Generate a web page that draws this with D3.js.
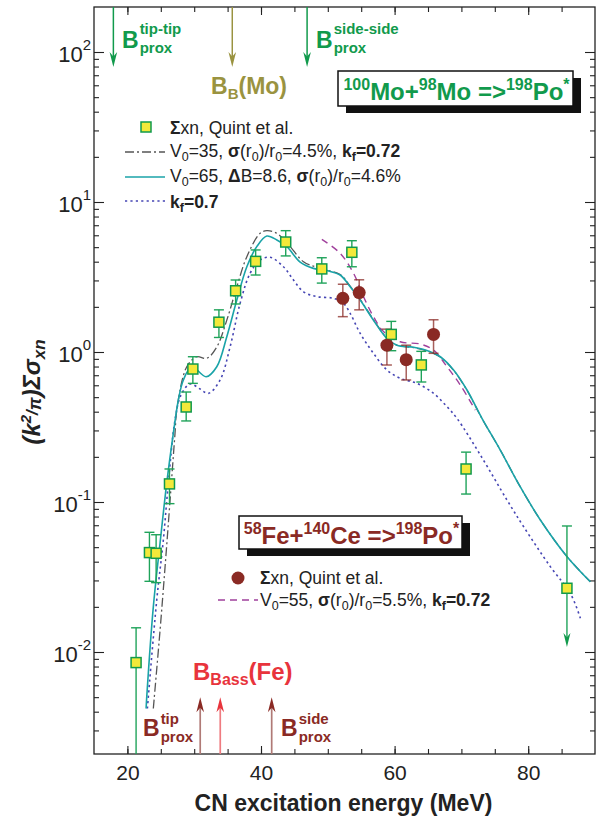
<!DOCTYPE html>
<html><head><meta charset="utf-8">
<script src="https://cdn.jsdelivr.net/npm/d3@7"></script>
<style>body{margin:0;background:#fff}svg{display:block}</style>
</head><body>
<svg id="chart" width="606" height="823"></svg>
<script>
// ---- 100Mo+98Mo -> 198Po*, sum of xn channels (Quint et al.)
const moEnergy  = [21.3, 23.3, 24.3, 26.3, 28.8, 29.8, 33.7, 36.2, 39.2, 43.7, 49.1, 53.6, 59.5, 64.0, 70.7, 85.8];
const moSigma   = [0.0085, 0.046, 0.0455, 0.132, 0.43, 0.77, 1.58, 2.56, 4.02, 5.41, 3.58, 4.62, 1.31, 0.82, 0.166, 0.0266];
const moErrHigh = [0.0145, 0.0628, 0.0605, 0.166, 0.541, 0.93, 1.91, 3.02, 4.79, 6.44, 4.25, 5.52, 1.60, 1.01, 0.215, 0.0692];
const moErrLow  = [0.001, 0.0296, 0.029, 0.0975, 0.347, 0.618, 1.25, 2.09, 3.26, 4.37, 2.88, 3.70, 1.02, 0.631, 0.113, 0.0108];
const moUpperLimitOnly = [false, false, false, false, false, false, false, false, false, false, false, false, false, false, false, true];

// ---- 58Fe+140Ce -> 198Po*
const feEnergy  = [52.25, 54.7, 58.85, 61.74, 65.83];
const feSigma   = [2.28, 2.49, 1.11, 0.889, 1.31];
const feErrHigh = [2.83, 3.03, 1.42, 1.11, 1.64];
const feErrLow  = [1.72, 1.91, 0.819, 0.651, 0.98];

// ---- model curves
const v35Energy = [23.88, 24.89, 25.64, 26.39, 27.13, 27.39, 28.89, 30.39, 31.88, 33.38, 34.88, 36.38, 37.88, 39.87, 40.87, 42.37, 44.36, 46.36, 48.86, 51.85, 53.35, 54.85, 56.84, 58.85, 60.35, 62.84, 65.34, 66.84, 68.83, 70.84, 73.08, 75.82, 78.82, 81.82, 85.82, 89.31];
const v35Sigma  = [0.0042, 0.014, 0.037, 0.103, 0.288, 0.41, 0.798, 0.93, 0.908, 1.08, 1.63, 2.72, 4.32, 6.19, 6.44, 6.19, 5.04, 4.0, 3.61, 3.28, 2.75, 2.24, 1.64, 1.24, 1.11, 1.07, 1.0, 0.925, 0.755, 0.555, 0.36, 0.222, 0.126, 0.0759, 0.0432, 0.0294];

const v65Energy = [22.8, 22.9, 23.88, 24.89, 25.89, 26.88, 27.63, 28.38, 29.64, 31.78, 33.38, 34.88, 36.38, 37.88, 39.37, 40.87, 42.37, 43.87, 45.86, 47.85, 49.86, 51.85, 53.35, 54.85, 56.84, 58.85, 60.35, 62.84, 65.34, 66.84, 68.83, 70.84, 73.08, 75.82, 78.82, 81.82, 85.82, 89.31];
const v65Sigma  = [0.0042, 0.00504, 0.0200, 0.0533, 0.134, 0.288, 0.479, 0.651, 0.798, 0.684, 0.798, 1.265, 2.22, 3.70, 5.04, 5.93, 5.58, 5.04, 3.98, 3.61, 3.49, 3.26, 2.72, 2.22, 1.63, 1.23, 1.11, 1.075, 1.005, 0.93, 0.759, 0.558, 0.361, 0.222, 0.126, 0.0759, 0.0432, 0.0294];

const kf07Energy = [22.99, 24.39, 25.38, 26.13, 27.13, 28.03, 29.38, 30.88, 32.12, 33.88, 35.37, 36.87, 38.37, 39.87, 41.37, 43.36, 44.86, 46.36, 48.36, 50.85, 52.3, 53.35, 54.85, 56.84, 58.85, 60.84, 63.34, 65.83, 67.84, 69.34, 72.83, 76.83, 79.31, 83.31, 86.31, 87.81];
const kf07Sigma  = [0.0042, 0.0222, 0.0558, 0.134, 0.352, 0.517, 0.612, 0.567, 0.53, 0.651, 1.08, 2.11, 3.35, 4.11, 4.28, 3.70, 3.02, 2.52, 2.34, 2.28, 2.12, 1.81, 1.33, 0.98, 0.759, 0.668, 0.618, 0.53, 0.432, 0.361, 0.206, 0.103, 0.0685, 0.0371, 0.0246, 0.0168];

const feModelEnergy = [49.11, 51.85, 53.85, 55.34, 56.84, 58.34, 60.84, 63.84, 65.83, 67.84, 69.83, 72.08];
const feModelSigma  = [5.64, 4.55, 3.35, 2.34, 1.72, 1.37, 1.17, 1.13, 1.03, 0.798, 0.603, 0.41];

// ---- barrier arrows
const moArrowEnergy = [17.9, 35.7, 46.9];      // B_prox tip-tip, B_B(Mo), B_prox side-side
const moArrowTip = 79.4;
const feArrowEnergy = [30.9, 33.9, 41.6];      // B_prox tip, B_Bass(Fe), B_prox side
const feArrowTip = 0.005;

// ---- axes
const xTicksMajor = [20, 40, 60, 80];
const xTicksMinor = [20, 25, 30, 35, 40, 45, 50, 55, 60, 65, 70, 75, 80, 85];
const yDecades = [0.01, 0.1, 1, 10, 100];
const yDecadeLabels = ["-2", "-1", "0", "1", "2"];

const FONT = "'Liberation Sans', Arial, Helvetica, sans-serif";
const C = {
  green: "#119a4c", errGreen: "#1fa35a", fill: "#f3e93a",
  olive: "#9a9340", red: "#e8343c", darkRed: "#8a2a24",
  teal: "#1aa3a8", gray: "#555555", blue: "#4646b4", magenta: "#a0409c"
};

const plot = {left: 94, right: 595, top: 7, bottom: 754};
const svg = d3.select("#chart");

const x = d3.scaleLinear().domain([15, 90]).range([plot.left, plot.right]);
const y = d3.scaleLog().domain([Math.pow(10, -2.68), Math.pow(10, 2.3)]).range([plot.bottom, plot.top]);

svg.append("defs").append("clipPath").attr("id", "clip")
  .append("rect").attr("x", plot.left).attr("y", plot.top)
  .attr("width", plot.right - plot.left).attr("height", plot.bottom - plot.top);

// ---- axes with inward ticks
const yMinor = y.ticks().filter(v => !yDecades.some(d => Math.abs(v / d - 1) < 1e-6));
function styleAxis(g) {
  g.select(".domain").remove();
  g.selectAll("line").attr("stroke", "#222").attr("stroke-width", 1.1);
}
svg.append("g").attr("transform", `translate(0,${plot.bottom})`)
  .call(d3.axisBottom(x).tickValues(xTicksMinor).tickSize(-5).tickFormat("")).call(styleAxis);
svg.append("g").attr("transform", `translate(0,${plot.bottom})`)
  .call(d3.axisBottom(x).tickValues(xTicksMajor).tickSize(-8).tickPadding(11).tickFormat(d3.format("d")))
  .call(styleAxis)
  .call(g => g.selectAll("text").attr("font-family", FONT).attr("font-size", 21).attr("fill", "#222"));
svg.append("g").attr("transform", `translate(0,${plot.top})`)
  .call(d3.axisTop(x).tickValues(xTicksMinor).tickSize(-5).tickFormat("")).call(styleAxis);
svg.append("g").attr("transform", `translate(0,${plot.top})`)
  .call(d3.axisTop(x).tickValues(xTicksMajor).tickSize(-8).tickFormat("")).call(styleAxis);
svg.append("g").attr("transform", `translate(${plot.left},0)`)
  .call(d3.axisLeft(y).tickValues(yMinor).tickSize(-5).tickFormat("")).call(styleAxis);
svg.append("g").attr("transform", `translate(${plot.left},0)`)
  .call(d3.axisLeft(y).tickValues(yDecades).tickSize(-10).tickFormat("")).call(styleAxis);
svg.append("g").attr("transform", `translate(${plot.right},0)`)
  .call(d3.axisRight(y).tickValues(yMinor).tickSize(-5).tickFormat("")).call(styleAxis);
svg.append("g").attr("transform", `translate(${plot.right},0)`)
  .call(d3.axisRight(y).tickValues(yDecades).tickSize(-10).tickFormat("")).call(styleAxis);

svg.append("rect").attr("x", plot.left).attr("y", plot.top)
  .attr("width", plot.right - plot.left).attr("height", plot.bottom - plot.top)
  .attr("fill", "none").attr("stroke", "#222").attr("stroke-width", 1.3);

// decade labels 10^n
yDecades.forEach((v, i) => {
  const t = svg.append("text").attr("x", 91).attr("y", y(v) + 10)
    .attr("text-anchor", "end").attr("font-family", FONT).attr("font-size", 22).attr("fill", "#222");
  t.append("tspan").text("10");
  t.append("tspan").text(yDecadeLabels[i]).attr("font-size", 15).attr("dy", -12);
});

// rich text helper: parts = [{t, size, dy, w, style}]
function rich(g, xPos, yPos, parts, o) {
  const t = g.append("text").attr("x", xPos).attr("y", yPos)
    .attr("font-family", FONT).attr("fill", o.fill || "#222")
    .attr("font-size", o.size).attr("font-weight", o.w || "normal")
    .attr("text-anchor", o.anchor || "start");
  if (o.style) t.attr("font-style", o.style);
  let cur = 0;
  parts.forEach(p => {
    const d = p.dy || 0;
    const s = t.append("tspan").text(p.t).attr("dy", d - cur);
    cur = d;
    if (p.size) s.attr("font-size", p.size);
    if (p.w) s.attr("font-weight", p.w);
    if (p.style) s.attr("font-style", p.style);
  });
  return t;
}
// letter with stacked superscript and subscript
function stacked(g, xPos, yPos, main, sup, sub, o) {
  const m = g.append("text").attr("x", xPos).attr("y", yPos).text(main)
    .attr("font-family", FONT).attr("font-weight", "bold").attr("font-size", o.size).attr("fill", o.fill);
  const w = m.node().getComputedTextLength();
  g.append("text").attr("x", xPos + w + 1).attr("y", yPos - o.supUp).text(sup)
    .attr("font-family", FONT).attr("font-weight", "bold").attr("font-size", o.small).attr("fill", o.fill);
  g.append("text").attr("x", xPos + w + 1).attr("y", yPos + o.subDown).text(sub)
    .attr("font-family", FONT).attr("font-weight", "bold").attr("font-size", o.small).attr("fill", o.fill);
}

// ---- axis titles
svg.append("text").attr("x", 343.5).attr("y", 811).attr("text-anchor", "middle")
  .attr("font-family", FONT).attr("font-weight", "bold").attr("font-size", 23).attr("fill", "#222")
  .text("CN excitation energy (MeV)");
const yTitle = svg.append("g").attr("transform", "translate(40,392) rotate(-90)");
rich(yTitle, 0, 0, [
  {t: "(k"}, {t: "2", size: 15, dy: -9}, {t: "/", size: 17, dy: -2}, {t: "π", size: 18, dy: 1},
  {t: ")Σσ"}, {t: "xn", size: 17, dy: 5}
], {size: 24, w: "bold", style: "italic", anchor: "middle", fill: "#222"});

// ---- curves
const plotArea = svg.append("g").attr("clip-path", "url(#clip)");
const line = d3.line().x(d => x(d[0])).y(d => y(d[1])).curve(d3.curveCatmullRom.alpha(0.5));
const zip = (a, b) => a.map((v, i) => [v, b[i]]);

plotArea.append("path").datum(zip(kf07Energy, kf07Sigma)).attr("d", line)
  .attr("fill", "none").attr("stroke", C.blue).attr("stroke-width", 1.6).attr("stroke-dasharray", "2.2,3.2");
plotArea.append("path").datum(zip(feModelEnergy, feModelSigma)).attr("d", line)
  .attr("fill", "none").attr("stroke", C.magenta).attr("stroke-width", 1.4).attr("stroke-dasharray", "7,5");
plotArea.append("path").datum(zip(v35Energy, v35Sigma)).attr("d", line)
  .attr("fill", "none").attr("stroke", C.gray).attr("stroke-width", 1.3).attr("stroke-dasharray", "9,3,2,3");
plotArea.append("path").datum(zip(v65Energy, v65Sigma)).attr("d", line)
  .attr("fill", "none").attr("stroke", C.teal).attr("stroke-width", 1.6);

// ---- arrow helper (shaft + notched head), tip at (xp, yTip), pointing dir (+1 down, -1 up)
function arrow(g, xp, yFrom, yTip, dir, shaftColor, headColor, len, half, sw) {
  g.append("line").attr("x1", xp).attr("x2", xp).attr("y1", yFrom).attr("y2", yTip - dir * len * 0.6)
    .attr("stroke", shaftColor).attr("stroke-width", sw);
  const b = yTip - dir * len;
  g.append("path")
    .attr("d", `M${xp},${yTip} L${xp - half},${b} L${xp},${b + dir * len * 0.3} L${xp + half},${b} Z`)
    .attr("fill", headColor);
}

// ---- error bars and markers
const errG = plotArea.append("g");
moEnergy.forEach((e, i) => {
  const xp = x(e);
  if (moUpperLimitOnly[i]) {
    errG.append("line").attr("x1", xp - 5).attr("x2", xp + 5).attr("y1", y(moErrHigh[i])).attr("y2", y(moErrHigh[i]))
      .attr("stroke", C.errGreen).attr("stroke-width", 1.4);
    arrow(errG, xp, y(moErrHigh[i]), y(moErrLow[i]), 1, C.errGreen, C.green, 14, 3.5, 1.4);
  } else {
    errG.append("line").attr("x1", xp).attr("x2", xp).attr("y1", y(moErrHigh[i])).attr("y2", y(moErrLow[i]))
      .attr("stroke", C.errGreen).attr("stroke-width", 1.4);
    [moErrHigh[i], moErrLow[i]].forEach(v => errG.append("line")
      .attr("x1", xp - 5).attr("x2", xp + 5).attr("y1", y(v)).attr("y2", y(v))
      .attr("stroke", C.errGreen).attr("stroke-width", 1.4));
  }
});
feEnergy.forEach((e, i) => {
  const xp = x(e);
  errG.append("line").attr("x1", xp).attr("x2", xp).attr("y1", y(feErrHigh[i])).attr("y2", y(feErrLow[i]))
    .attr("stroke", C.darkRed).attr("stroke-opacity", 0.75).attr("stroke-width", 1.5);
  [feErrHigh[i], feErrLow[i]].forEach(v => errG.append("line")
    .attr("x1", xp - 5).attr("x2", xp + 5).attr("y1", y(v)).attr("y2", y(v))
    .attr("stroke", C.darkRed).attr("stroke-opacity", 0.75).attr("stroke-width", 1.5));
});
plotArea.selectAll(".mo").data(zip(moEnergy, moSigma)).join("rect")
  .attr("x", d => x(d[0]) - 5).attr("y", d => y(d[1]) - 5).attr("width", 10).attr("height", 10)
  .attr("fill", C.fill).attr("stroke", C.green).attr("stroke-width", 1.5);
plotArea.selectAll(".fe").data(zip(feEnergy, feSigma)).join("circle")
  .attr("cx", d => x(d[0])).attr("cy", d => y(d[1])).attr("r", 6.5).attr("fill", C.darkRed);

// ---- barrier arrows (top: Mo system, bottom: Fe system)
const arrG = svg.append("g");
[C.green, C.olive, C.green].forEach((c, i) =>
  arrow(arrG, x(moArrowEnergy[i]), plot.top, y(moArrowTip), 1, c, c, 15, 3.8, 1.5));
[["#b07a76", C.darkRed], ["#ef7b80", C.red], ["#b07a76", C.darkRed]].forEach((c, i) =>
  arrow(arrG, x(feArrowEnergy[i]), plot.bottom, y(feArrowTip), -1, c[0], c[1], 15, 3.8, 1.7));

// ---- barrier labels
stacked(svg, 122, 48, "B", "tip-tip", "prox", {size: 23, small: 15, fill: C.green, supUp: 14, subDown: 5});
stacked(svg, 316, 48, "B", "side-side", "prox", {size: 23, small: 15, fill: C.green, supUp: 14, subDown: 5});
rich(svg, 211, 94, [{t: "B"}, {t: "B", size: 15, dy: 5}, {t: "(Mo)", dy: 0}],
  {size: 23, w: "bold", fill: C.olive});
rich(svg, 193, 680, [{t: "B"}, {t: "Bass", size: 16, dy: 5}, {t: "(Fe)", dy: 0}],
  {size: 24, w: "bold", fill: C.red});
stacked(svg, 143, 736, "B", "tip", "prox", {size: 23, small: 15, fill: C.darkRed, supUp: 12, subDown: 6});
stacked(svg, 281, 736, "B", "side", "prox", {size: 23, small: 15, fill: C.darkRed, supUp: 12, subDown: 6});

// ---- reaction boxes with drop shadow
function reactionBox(x0, y0, w, h, parts, color, baseY) {
  svg.append("rect").attr("x", x0 + 8).attr("y", y0 + 7).attr("width", w).attr("height", h).attr("fill", "#111");
  svg.append("rect").attr("x", x0).attr("y", y0).attr("width", w).attr("height", h)
    .attr("fill", "#fff").attr("stroke", "#111").attr("stroke-width", 1.5);
  rich(svg, x0 + w / 2 + 1, baseY, parts, {size: 24, w: "bold", fill: color, anchor: "middle"});
}
reactionBox(338, 71, 235, 35, [
  {t: "100", size: 16, dy: -10}, {t: "Mo+"}, {t: "98", size: 16, dy: -10}, {t: "Mo =>"},
  {t: "198", size: 16, dy: -10}, {t: "Po"}, {t: "*", size: 16, dy: -10}], C.green, 100);
reactionBox(239, 516, 223, 33, [
  {t: "58", size: 16, dy: -10}, {t: "Fe+"}, {t: "140", size: 16, dy: -10}, {t: "Ce =>"},
  {t: "198", size: 16, dy: -10}, {t: "Po"}, {t: "*", size: 16, dy: -10}], C.darkRed, 544);

// ---- legends
const LS = 17.5, SS = 12.5;
const lg = svg.append("g");
lg.append("rect").attr("x", 141).attr("y", 122).attr("width", 10).attr("height", 10)
  .attr("fill", C.fill).attr("stroke", C.green).attr("stroke-width", 1.5);
rich(lg, 170, 134, [{t: "Σ", w: "bold"}, {t: "xn, Quint et al."}], {size: LS});
lg.append("line").attr("x1", 125).attr("x2", 165).attr("y1", 152).attr("y2", 152)
  .attr("stroke", C.gray).attr("stroke-width", 1.3).attr("stroke-dasharray", "9,3,2,3");
rich(lg, 170, 157, [{t: "V"}, {t: "0", size: SS, dy: 4}, {t: "=35, ", dy: 0}, {t: "σ", w: "bold"},
  {t: "(r"}, {t: "0", size: SS, dy: 4}, {t: ")/r", dy: 0}, {t: "0", size: SS, dy: 4}, {t: "=4.5%, ", dy: 0},
  {t: "k", w: "bold"}, {t: "f", size: SS, dy: 4, w: "bold"}, {t: "=0.72", dy: 0, w: "bold"}], {size: LS});
lg.append("line").attr("x1", 125).attr("x2", 165).attr("y1", 177).attr("y2", 177)
  .attr("stroke", C.teal).attr("stroke-width", 1.6);
rich(lg, 170, 182, [{t: "V"}, {t: "0", size: SS, dy: 4}, {t: "=65, ", dy: 0}, {t: "Δ", w: "bold"},
  {t: "B=8.6, "}, {t: "σ", w: "bold"}, {t: "(r"}, {t: "0", size: SS, dy: 4}, {t: ")/r", dy: 0},
  {t: "0", size: SS, dy: 4}, {t: "=4.6%", dy: 0}], {size: LS});
lg.append("line").attr("x1", 125).attr("x2", 165).attr("y1", 201).attr("y2", 201)
  .attr("stroke", C.blue).attr("stroke-width", 1.6).attr("stroke-dasharray", "2.2,3.2");
rich(lg, 170, 208, [{t: "k", w: "bold"}, {t: "f", size: SS, dy: 4, w: "bold"}, {t: "=0.7", dy: 0, w: "bold"}], {size: LS});

lg.append("circle").attr("cx", 238).attr("cy", 578).attr("r", 6.5).attr("fill", C.darkRed);
rich(lg, 260, 584, [{t: "Σ", w: "bold"}, {t: "xn, Quint et al."}], {size: LS});
lg.append("line").attr("x1", 218).attr("x2", 258).attr("y1", 600).attr("y2", 600)
  .attr("stroke", C.magenta).attr("stroke-width", 1.4).attr("stroke-dasharray", "7,5");
rich(lg, 260, 606, [{t: "V"}, {t: "0", size: SS, dy: 4}, {t: "=55, ", dy: 0}, {t: "σ", w: "bold"},
  {t: "(r"}, {t: "0", size: SS, dy: 4}, {t: ")/r", dy: 0}, {t: "0", size: SS, dy: 4}, {t: "=5.5%, ", dy: 0},
  {t: "k", w: "bold"}, {t: "f", size: SS, dy: 4, w: "bold"}, {t: "=0.72", dy: 0, w: "bold"}], {size: LS});
</script>
</body></html>
